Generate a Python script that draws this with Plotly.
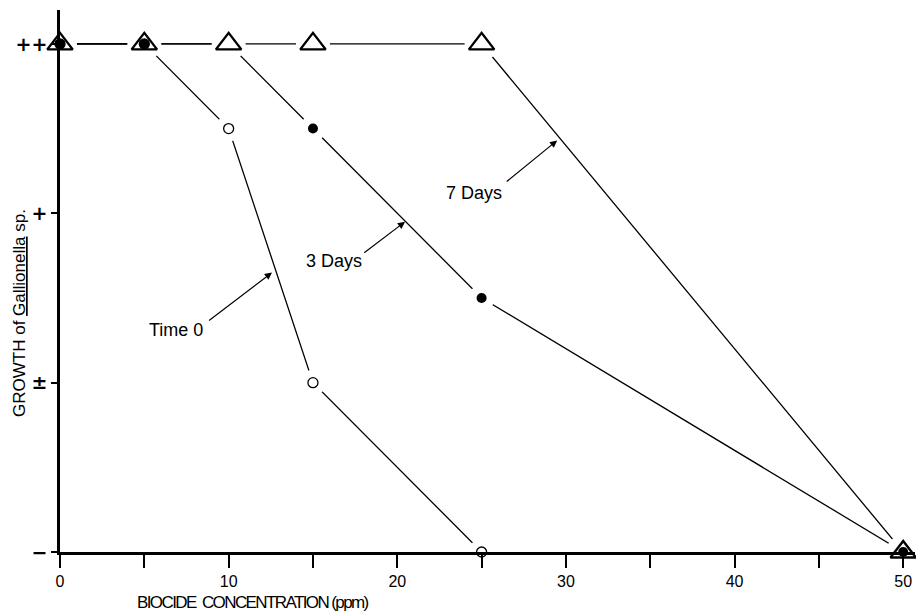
import plotly.graph_objects as go

# Data
conc_t0 = [0, 5, 10, 15, 25]
growth_t0 = [3, 3, 2.5, 1, 0]
conc_3d = [0, 5, 10, 15, 25, 50]
growth_3d = [3, 3, 3, 2.5, 1.5, 0]
show_3d = [True, True, False, True, True, True]
conc_7d = [0, 5, 10, 15, 25, 50]
growth_7d = [3, 3, 3, 3, 3, 0]
y_ticks = [0, 1, 2, 3]
y_labels = ["\u2212", "\u00b1", "+", "++"]
x_ticks = list(range(0, 55, 5))
x_labels = [str(v) if v % 10 == 0 else "" for v in x_ticks]

FONT = "Liberation Sans, Arial, sans-serif"
fig = go.Figure()

# lines
for xs, ys in [(conc_t0, growth_t0), (conc_3d, growth_3d), (conc_7d, growth_7d)]:
    fig.add_trace(go.Scatter(x=xs, y=ys, mode="lines", line=dict(color="black", width=1.3),
                             showlegend=False, hoverinfo="skip", cliponaxis=False))

# white masks to create gaps around markers
fig.add_trace(go.Scatter(x=conc_7d, y=growth_7d, mode="markers",
                         marker=dict(symbol="circle", size=34, color="white", line=dict(width=0)),
                         showlegend=False, hoverinfo="skip", cliponaxis=False))
fig.add_trace(go.Scatter(x=conc_t0[2:], y=growth_t0[2:], mode="markers",
                         marker=dict(symbol="circle", size=26, color="white", line=dict(width=0)),
                         showlegend=False, hoverinfo="skip", cliponaxis=False))
fig.add_trace(go.Scatter(x=conc_3d[3:], y=growth_3d[3:], mode="markers",
                         marker=dict(symbol="circle", size=26, color="white", line=dict(width=0)),
                         showlegend=False, hoverinfo="skip", cliponaxis=False))

# markers
fig.add_trace(go.Scatter(x=conc_7d, y=growth_7d, mode="markers",
                         marker=dict(symbol="triangle-up-open", size=22, color="black", line=dict(width=2.4)),
                         showlegend=False, cliponaxis=False))
fig.add_trace(go.Scatter(x=[x for x, s in zip(conc_3d, show_3d) if s],
                         y=[y for y, s in zip(growth_3d, show_3d) if s], mode="markers",
                         marker=dict(symbol="circle", size=10, color="black"),
                         showlegend=False, cliponaxis=False))
fig.add_trace(go.Scatter(x=conc_t0, y=growth_t0, mode="markers",
                         marker=dict(symbol="circle-open", size=10, color="black", line=dict(width=1.3)),
                         showlegend=False, cliponaxis=False))

# labels with arrows
def lab(text, tx, ty, hx, hy, lx, ly):
    fig.add_annotation(x=hx, y=hy, xref="x", yref="y", ax=tx, ay=ty, axref="x", ayref="y",
                       text="", showarrow=True, arrowhead=2, arrowsize=1.2, arrowwidth=1.2,
                       arrowcolor="black", standoff=0, startstandoff=0)
    fig.add_annotation(x=lx, y=ly, xref="x", yref="y", text=text, showarrow=False,
                       xanchor="right", yanchor="middle",
                       font=dict(size=18, color="black", family=FONT))

lab("Time 0", 8.75, 1.36, 12.57, 1.65, 8.6, 1.31)
lab("3 Days", 17.95, 1.76, 20.46, 1.95, 18.0, 1.72)
lab("7 Days", 26.4, 2.18, 29.48, 2.43, 26.3, 2.12)

# axis titles
fig.add_annotation(x=0.2257, y=-0.093, xref="paper", yref="paper",
                   text="<span style='letter-spacing:-1.6px'>BIOCIDE  CONCENTRATION (ppm)</span>",
                   showarrow=False, font=dict(size=17, color="black", family=FONT),
                   xanchor="center", yanchor="middle")
fig.add_annotation(xref="paper", yref="paper", x=-0.0468, y=0.441, xanchor="center", yanchor="middle",
                   text="GROWTH of <u>Gallionella</u> sp.", textangle=-90, showarrow=False,
                   font=dict(size=17, color="black", family=FONT))

fig.update_xaxes(range=[0, 50.7], tickvals=x_ticks, ticktext=x_labels, ticks="outside",
                 ticklen=13, tickwidth=2, tickcolor="black", showline=True, linecolor="black",
                 linewidth=2.5, showgrid=False, zeroline=False, layer="above traces",
                 tickfont=dict(size=16, color="black", family=FONT))
fig.update_yaxes(range=[0, 3.2], tickvals=y_ticks, ticktext=y_labels, ticks="outside",
                 ticklen=6, tickwidth=2, tickcolor="black", showline=True, linecolor="black",
                 linewidth=2.5, showgrid=False, zeroline=False, layer="above traces",
                 tickfont=dict(size=19, color="black", family="DejaVu Sans, sans-serif", weight="bold"))
fig.update_layout(width=916, height=612, margin=dict(l=60, r=1, t=10, b=60),
                  plot_bgcolor="white", paper_bgcolor="white", showlegend=False)
fig.write_html("out.html")
